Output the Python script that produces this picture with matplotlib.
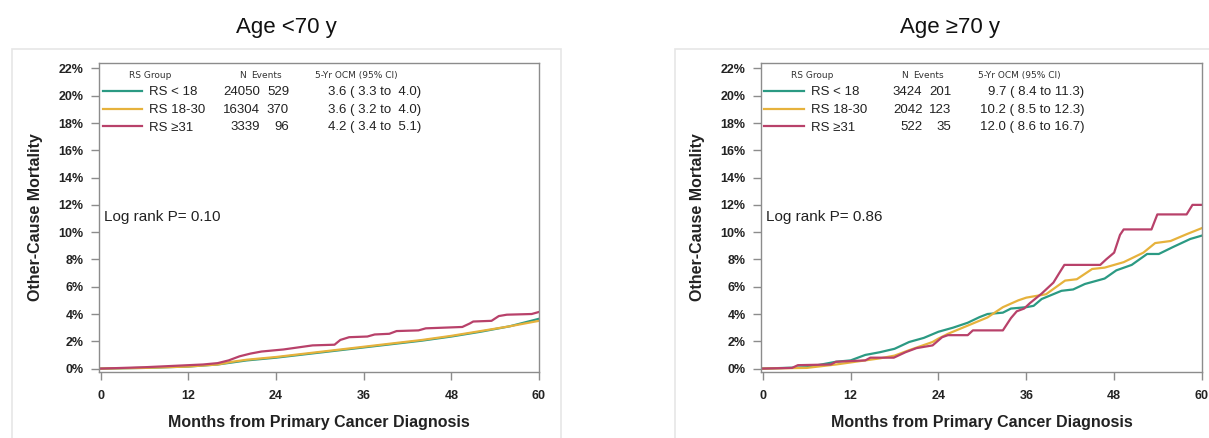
import matplotlib
matplotlib.use('Agg')
import matplotlib.pyplot as plt
from matplotlib.patches import Rectangle
from matplotlib.ticker import FuncFormatter

# ---- data (cumulative other-cause mortality, %) ----
groups = ['RS < 18', 'RS 18-30', 'RS \u226531']
colors = ['#2b9a83', '#e6b23c', '#b8416a']

# Age < 70 y
young_teal_m = [0, 6, 12, 16, 18, 20, 24, 28, 32, 36, 40, 44, 48, 52, 56, 60]
young_teal_v = [0, 0.05, 0.15, 0.3, 0.45, 0.6, 0.8, 1.05, 1.3, 1.55, 1.8, 2.05, 2.35, 2.7, 3.1, 3.65]
young_yel_m = [0, 6, 12, 16, 18, 20, 24, 28, 32, 36, 40, 44, 48, 52, 56, 60]
young_yel_v = [0, 0.05, 0.15, 0.3, 0.5, 0.65, 0.85, 1.1, 1.35, 1.6, 1.85, 2.1, 2.4, 2.75, 3.1, 3.5]
young_red_m = [0, 6, 10, 14, 16, 17.5, 19, 20.5, 22, 25, 27, 29, 32, 32.8, 34, 36.5, 37.5, 39.5,
               40.5, 43.5, 44.5, 49.5, 50.5, 51, 53.5, 54.5, 55.6, 59, 60]
young_red_v = [0, 0.1, 0.2, 0.3, 0.4, 0.6, 0.9, 1.1, 1.25, 1.4, 1.55, 1.7, 1.75, 2.1, 2.3, 2.35,
               2.5, 2.55, 2.75, 2.8, 2.95, 3.05, 3.3, 3.45, 3.5, 3.85, 3.95, 4.0, 4.15]

# Age >= 70 y
old_teal_m = [0, 6, 10, 12, 14, 16, 18, 20, 22, 24, 26, 28, 29.6, 30.7, 32.8, 33.9, 36, 37, 38.1,
              40.8, 42.4, 44, 46.7, 48.3, 50.4, 52.5, 54.1, 56, 58.4, 60]
old_teal_v = [0, 0.1, 0.5, 0.6, 1.0, 1.2, 1.45, 1.95, 2.25, 2.7, 3.0, 3.36, 3.77, 4.0, 4.1, 4.4,
              4.5, 4.6, 5.1, 5.7, 5.8, 6.2, 6.6, 7.2, 7.6, 8.4, 8.4, 8.9, 9.5, 9.75]
old_yel_m = [0, 6, 10, 12, 14, 16, 18, 20, 23.2, 24, 25.3, 28, 30.7, 32.8, 34.9, 36, 38.7, 41.3,
             42.9, 45, 46.7, 49.3, 52, 53.6, 55.7, 57.9, 60]
old_yel_v = [0, 0.05, 0.3, 0.45, 0.6, 0.75, 0.95, 1.35, 1.95, 2.2, 2.55, 3.15, 3.75, 4.5, 5.0,
             5.2, 5.45, 6.45, 6.55, 7.3, 7.4, 7.8, 8.5, 9.2, 9.35, 9.85, 10.3]
old_red_m = [0, 4, 4.8, 9.3, 10, 12, 14, 14.7, 17.9, 19.5, 21, 23.2, 24.5, 25.3, 28, 28.7, 32.8,
             33.9, 34.7, 35.7, 36.5, 38.1, 39.7, 40.5, 41.2, 46.1, 46.9, 48, 48.8, 49.3, 53.1,
             53.9, 57.9, 58.7, 60]
old_red_v = [0, 0.05, 0.25, 0.3, 0.5, 0.55, 0.6, 0.8, 0.8, 1.2, 1.5, 1.7, 2.3, 2.45, 2.45, 2.8, 2.8,
             3.7, 4.2, 4.4, 4.8, 5.5, 6.3, 7.0, 7.6, 7.6, 8.0, 8.5, 9.8, 10.2, 10.2,
             11.3, 11.3, 12.0, 12.0]

young_n = ['24050', '16304', '3339']
young_events = ['529', '370', '96']
young_ocm = ['3.6 ( 3.3 to  4.0)', '3.6 ( 3.2 to  4.0)', '4.2 ( 3.4 to  5.1)']
old_n = ['3424', '2042', '522']
old_events = ['201', '123', '35']
old_ocm = ['9.7 ( 8.4 to 11.3)', '10.2 ( 8.5 to 12.3)', '12.0 ( 8.6 to 16.7)']

titles = ['Age <70 y', 'Age \u226570 y']
pvals = ['Log rank P= 0.10', 'Log rank P= 0.86']
xticks = [0, 12, 24, 36, 48, 60]
yticks = [0, 2, 4, 6, 8, 10, 12, 14, 16, 18, 20, 22]

plt.rcParams['font.family'] = ['Liberation Sans', 'DejaVu Sans']

fig = plt.figure(figsize=(12.09, 4.38), dpi=100)

# light panel frames
fig.patches.append(Rectangle((0.0099, -0.02), 0.454, 0.908, transform=fig.transFigure,
                             fill=False, edgecolor='#e6e6e6', lw=1.2))
fig.patches.append(Rectangle((0.5583, -0.02), 0.46, 0.908, transform=fig.transFigure,
                             fill=False, edgecolor='#e6e6e6', lw=1.2))

ax1 = fig.add_axes([0.0819, 0.1507, 0.3639, 0.7055])
ax2 = fig.add_axes([0.6294, 0.1507, 0.3648, 0.7055])

panels = [
    (ax1, [(young_teal_m, young_teal_v), (young_yel_m, young_yel_v),
           (young_red_m, young_red_v)], young_n, young_events, young_ocm),
    (ax2, [(old_teal_m, old_teal_v), (old_yel_m, old_yel_v),
           (old_red_m, old_red_v)], old_n, old_events, old_ocm),
]
title_x = [286 / 1209, 950 / 1209]

for k, (ax, curves, ns, evs, ocms) in enumerate(panels):
    handles = []
    for (m, v), c in zip(curves, colors):
        ln, = ax.plot(m, v, color=c, lw=1.6)
        handles.append(ln)

    ax.set_xlim(-0.25, 60)
    ax.set_ylim(-0.25, 22.4)
    ax.set_xticks(xticks)
    ax.set_yticks(yticks)
    ax.yaxis.set_major_formatter(FuncFormatter(lambda v, p: f'{v:.0f}%'))
    ax.tick_params(length=6, width=1, color='#8c8c8c', labelsize=9, labelcolor='#222222')
    ax.tick_params(axis='x', pad=7)
    ax.tick_params(axis='y', pad=5)
    for lab in ax.get_xticklabels() + ax.get_yticklabels():
        lab.set_fontweight('bold')
    for sp in ax.spines.values():
        sp.set_color('#8c8c8c')
        sp.set_linewidth(1)

    ax.set_xlabel('Months from Primary Cancer Diagnosis', fontsize=11.5, fontweight='bold',
                  color='#222222', labelpad=9)
    ax.set_ylabel('Other-Cause Mortality', fontsize=11.5, fontweight='bold',
                  color='#222222', labelpad=11)

    # legend table
    leg = ax.legend(handles, groups, loc='upper left', bbox_to_anchor=(0.008, 0.925),
                    frameon=False, borderpad=0, borderaxespad=0, handlelength=3.0,
                    handletextpad=0.5, labelspacing=0.42, fontsize=9.5)
    for t in leg.get_texts():
        t.set_color('#222222')
    hdr_kw = dict(transform=ax.transAxes, fontsize=6.5, family='DejaVu Sans',
                  color='#333333', va='center')
    ax.text(0.068, 0.961, 'RS Group', ha='left', **hdr_kw)
    ax.text(0.333, 0.961, 'N', ha='right', **hdr_kw)
    ax.text(0.345, 0.961, 'Events', ha='left', **hdr_kw)
    ax.text(0.492, 0.961, '5-Yr OCM (95% CI)', ha='left', **hdr_kw)
    row_y = [0.906, 0.849, 0.792]
    for i in range(3):
        kw = dict(transform=ax.transAxes, fontsize=9.5, color='#222222', va='center')
        ax.text(0.366, row_y[i], ns[i], ha='right', **kw)
        ax.text(0.432, row_y[i], evs[i], ha='right', **kw)
        ax.text(0.733, row_y[i], ocms[i], ha='right', **kw)

    ax.text(0.012, 0.503, pvals[k], transform=ax.transAxes, fontsize=11,
            color='#222222', va='center', ha='left')

    fig.text(title_x[k], 1 - 27 / 438, titles[k], fontsize=16, ha='center', va='center',
             color='#111111')

fig.savefig('out.png', dpi=100)
